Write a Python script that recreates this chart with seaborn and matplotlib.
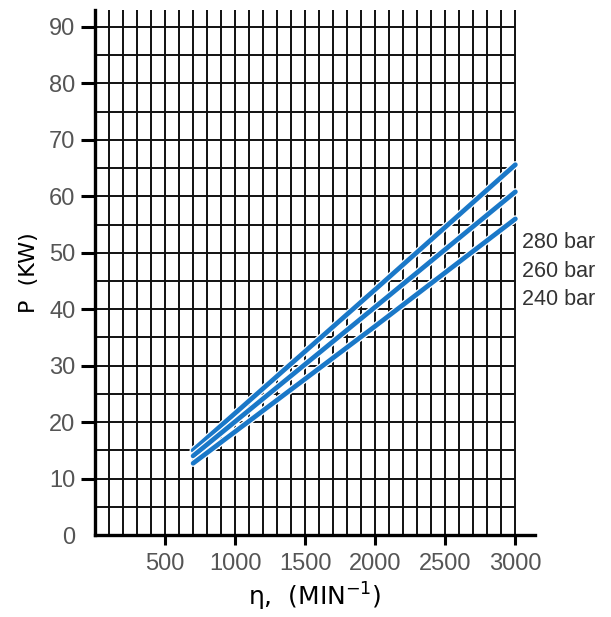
import matplotlib
matplotlib.use("Agg")
import matplotlib.pyplot as plt
import matplotlib.patheffects as pe
import pandas as pd
import seaborn as sb
import numpy as np

# dados (rotacao x potencia)
ROTACAO = [700, 2000, 3000]
P_280 = [15.0, 43.5, 65.6]
P_260 = [14.0, 40.4, 60.8]
P_240 = [12.7, 37.0, 56.0]
PRESSOES = ["280 bar", "260 bar", "240 bar"]
Y_ROTULOS = [51.8, 46.6, 41.7]

X_TICKS = [500, 1000, 1500, 2000, 2500, 3000]
Y_TICKS = [0, 10, 20, 30, 40, 50, 60, 70, 80, 90]

AZUL = "#1a78c8"
CINZA = "#555555"
FONTE_NUM = ["Liberation Sans Narrow", "Liberation Sans", "DejaVu Sans"]


def monta_df() -> pd.DataFrame:
    partes = []
    for nome, vals in zip(PRESSOES, [P_280, P_260, P_240]):
        partes.append(pd.DataFrame({"n": ROTACAO, "P": vals, "pressao": nome}))
    return pd.concat(partes, ignore_index=True)


def main():
    sb.set_style("white")
    plt.rcParams["font.family"] = ["DejaVu Sans"]

    df = monta_df()
    fig = plt.figure(figsize=(6.11, 6.17), dpi=100)
    ax = fig.add_axes([95 / 611, 1 - 535 / 617, 440 / 611, 525 / 617])

    # grade manual (linhas pretas a cada 100 rpm e 5 kW)
    gx = np.arange(100, 3001, 100)
    gy = np.arange(5, 91, 5)
    ax.vlines(gx, 0, 93, colors="#111111", linewidth=1.4, zorder=1)
    ax.hlines(gy, 0, 3000, colors="#111111", linewidth=1.4, zorder=1)

    sb.lineplot(data=df, x="n", y="P", hue="pressao", palette=[AZUL] * 3,
                linewidth=3.4, legend=False, ax=ax, zorder=3)
    for ln in ax.lines:
        ln.set_path_effects([pe.Stroke(linewidth=5.2, foreground="white"), pe.Normal()])

    for nome, y in zip(PRESSOES, Y_ROTULOS):
        ax.text(3050, y, nome, fontsize=15.5, color="#333333", family=FONTE_NUM,
                va="center", ha="left", clip_on=False)

    ax.set_xlim(0, 3140)
    ax.set_ylim(0, 93)
    ax.set_xticks(X_TICKS)
    ax.set_yticks(Y_TICKS)
    ax.set_xticklabels([str(v) for v in X_TICKS], fontsize=17, color=CINZA, family=FONTE_NUM)
    ax.set_yticklabels([str(v) for v in Y_TICKS], fontsize=17, color=CINZA, family=FONTE_NUM)
    ax.tick_params(axis="y", length=10, width=2.2, pad=4, color="black", left=True)
    ax.tick_params(axis="x", length=7, width=2.2, pad=6, color="black", bottom=True)
    ax.yaxis.get_major_ticks()[0].tick1line.set_visible(False)

    for lado in ["top", "right"]:
        ax.spines[lado].set_visible(False)
    for lado in ["left", "bottom"]:
        ax.spines[lado].set_linewidth(2.4)
        ax.spines[lado].set_color("black")
        ax.spines[lado].set_zorder(4)

    ax.set_xlabel("η,  (MIN$^{-1}$)", fontsize=18, color="black", labelpad=4)
    ax.set_ylabel("P  (KW)", fontsize=16, color="black", labelpad=7)

    fig.savefig("out.png", dpi=100)
    plt.close(fig)


if __name__ == "__main__":
    main()
